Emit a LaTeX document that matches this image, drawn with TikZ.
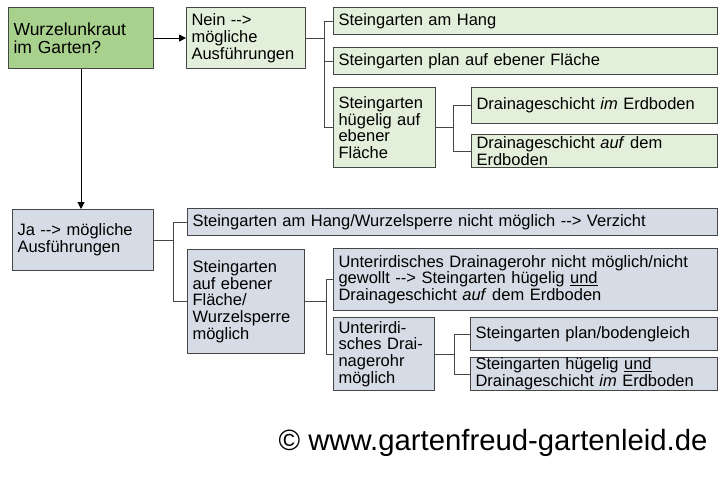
\documentclass[tikz,border=0pt]{standalone}
\usepackage{fontspec}
\setmainfont{Liberation Sans}
\usetikzlibrary{arrows.meta,calc}
\definecolor{dgreen}{RGB}{169,209,142}
\definecolor{lgreen}{RGB}{226,239,218}
\definecolor{lblue}{RGB}{214,220,229}
\definecolor{bord}{RGB}{70,70,70}
\newcommand\myarrowtext{-\kern0pt-\kern0pt>}
\tikzset{
  bx/.style={draw=bord, line width=1.1pt, anchor=north west, inner xsep=5pt, inner ysep=0pt, align=left,
    font=\fontsize{16.5}{16.7}\selectfont},
  gbox/.style={bx, fill=lgreen},
  bbox/.style={bx, fill=lblue},
  conn/.style={draw=bord, line width=1.1pt},
  arr/.style={draw=black, line width=1pt, -{Triangle[length=7pt,width=7pt]}}
}
\begin{document}
\begin{tikzpicture}[x=1pt,y=-1pt]
\useasboundingbox (0,0) rectangle (720,480);
% top part
\node[bx, fill=dgreen, minimum width=145pt, minimum height=61pt, text width=135pt, font=\fontsize{17.5}{17.5}\selectfont] (A) at (8,7) {Wurzelunkraut\\im Garten?};
\node[gbox, minimum width=119pt, minimum height=61pt, text width=109pt] (B) at (186,7) {Nein \myarrowtext\\mögliche\\Ausführungen};
\node[gbox, minimum width=384pt, minimum height=27pt, text width=374pt] (C1) at (333,7) {Steingarten am Hang};
\node[gbox, minimum width=384pt, minimum height=27pt, text width=374pt] (C2) at (333,47) {Steingarten plan auf ebener Fläche};
\node[gbox, minimum width=102pt, minimum height=80pt, text width=92pt] (C3) at (333,87) {Steingarten\\hügelig auf\\ebener\\Fläche};
\node[gbox, minimum width=246pt, minimum height=36pt, text width=236pt] (D1) at (471,87) {Drainageschicht \textit{im} Erdboden};
\node[gbox, minimum width=246pt, minimum height=33pt, text width=236pt] (D2) at (471,134) {Drainageschicht \textit{auf} dem\\Erdboden};
% bottom part
\node[bbox, minimum width=141pt, minimum height=61pt, text width=131pt] (E) at (12,209) {Ja \myarrowtext{} mögliche\\Ausführungen};
\node[bbox, minimum width=530pt, minimum height=27pt, text width=520pt] (F1) at (187,208) {Steingarten am Hang/Wurzelsperre nicht möglich \myarrowtext{} Verzicht};
\node[bbox, minimum width=117pt, minimum height=104pt, text width=107pt] (F2) at (187,249) {Steingarten\\auf ebener\\Fläche/\\Wurzelsperre\\möglich};
\node[bbox, minimum width=384pt, minimum height=62pt, text width=374pt] (G1) at (333,248) {Unterirdisches Drainagerohr nicht möglich/nicht\\gewollt \myarrowtext{} Steingarten hügelig \underline{und}\\Drainageschicht \textit{auf} dem Erdboden};
\node[bbox, minimum width=101pt, minimum height=73pt, text width=91pt] (G2) at (333,317) {Unterirdi-\\sches Drai-\\nagerohr\\möglich};
\node[bbox, minimum width=247pt, minimum height=33pt, text width=237pt] (H1) at (470,317) {Steingarten plan/bodengleich};
\node[bbox, minimum width=247pt, minimum height=33pt, text width=237pt] (H2) at (470,357) {Steingarten hügelig \underline{und}\\Drainageschicht \textit{im} Erdboden};
% arrows
\draw[arr] (A.east) -- (B.west);
\draw[arr] (A.south -| 81,0) -- (E.north -| 81,0);
% trees
\coordinate (jB) at ($(B.east)+(18,0)$);
\draw[conn] (B.east) -- (jB);
\draw[conn] (C1.west) -| (jB) |- (C3.west);
\draw[conn] (jB) |- (C2.west);
\coordinate (jC) at ($(C3.east)+(17,0)$);
\draw[conn] (C3.east) -- (jC);
\draw[conn] (D1.west) -| (jC) |- (D2.west);
\coordinate (jE) at ($(E.east)+(19,0)$);
\draw[conn] (E.east) -- (jE);
\draw[conn] (F1.west) -| (jE) |- (F2.west);
\coordinate (jF) at ($(F2.east)+(21,0)$);
\draw[conn] (F2.east) -- (jF);
\draw[conn] (G1.west) -| (jF) |- (G2.west);
\coordinate (jG) at ($(G2.east)+(19,0)$);
\draw[conn] (G2.east) -- (jG);
\draw[conn] (H1.west) -| (jG) |- (H2.west);
% copyright
\node[font=\fontsize{29.3}{30}\selectfont, inner sep=0pt] (cp) at (493,443) {© www.gartenfreud-gartenleid.de};
\end{tikzpicture}
\end{document}
